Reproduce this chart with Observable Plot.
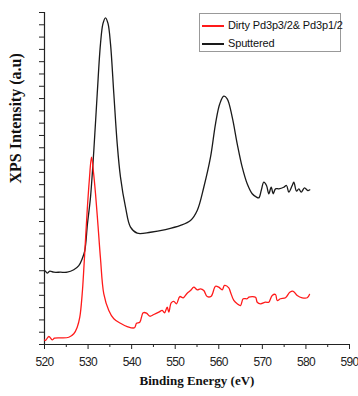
<!DOCTYPE html>
<html>
<head>
<meta charset="utf-8">
<script src="https://cdn.jsdelivr.net/npm/d3@7"></script>
<script src="https://cdn.jsdelivr.net/npm/@observablehq/plot@0.6"></script>
<style>
  html, body { margin: 0; padding: 0; background: #fff; }
  #wrap { position: relative; width: 358px; height: 396px; }
  g[aria-label="x-axis tick label"] text { font-family: "Liberation Sans", Arial, sans-serif; font-size: 12px; letter-spacing: -0.7px; fill: #222; }
  g[aria-label="x-axis label"] text {
    font-family: "Liberation Serif", "Times New Roman", serif !important; font-weight: bold; font-size: 13px; fill: #111;
  }
  #legend {
    position: absolute; left: 199px; top: 13px; width: 142px; height: 39px;
    border: 1px solid #999; background: #fff; box-sizing: border-box;
    font-family: "Liberation Sans", Arial, sans-serif; font-size: 11px; letter-spacing: -0.15px; color: #111;
  }
  #legend .row { position: absolute; left: 2px; height: 14px; line-height: 14px; white-space: nowrap; }
  #legend .sw { position: absolute; left: 0; top: 7px; width: 22px; height: 1.5px; }
  #legend .lab { position: absolute; left: 26px; top: 0; }
</style>
</head>
<body>
<div id="wrap"></div>
<script>
// Sputtered (black)
const blackX = [520.00,520.23,520.62,521.22,522.13,523.67,525.21,526.72,527.87,528.65,529.25,529.87,530.56,531.32,532.10,532.85,533.43,534.00,534.57,535.15,535.91,536.69,537.44,538.59,539.74,541.28,544.33,547.77,551.21,553.51,555.05,556.56,558.10,559.25,560.23,561.15,561.93,563.08,564.23,565.38,566.52,567.67,568.66,569.19,569.74,570.33,570.95,571.48,572.03,572.49,573.02,573.78,574.92,575.54,576.07,576.85,577.22,577.84,578.37,578.92,579.67,580.43,580.89];
const blackY = [6.02,5.96,5.80,5.96,5.88,5.88,5.88,6.08,6.42,6.97,7.64,9.84,11.98,15.78,20.39,24.45,26.11,26.57,26.11,24.45,20.39,16.32,13.61,11.17,9.54,9.05,9.13,9.35,9.68,10.08,10.90,12.79,15.23,17.95,19.58,20.19,19.98,18.49,16.32,14.42,13.07,12.26,11.98,11.93,12.52,13.20,12.93,12.26,12.79,12.26,12.66,12.66,12.79,12.93,12.39,12.93,13.20,12.47,12.66,12.39,12.74,12.52,12.58];
// Dirty Pd3p3/2 & Pd3p1/2 (red)
const redX = [520.00,520.23,520.99,521.77,522.30,523.67,525.58,526.72,527.51,528.10,528.65,529.07,529.80,530.28,530.79,531.25,531.71,532.28,532.85,533.61,534.76,535.91,537.44,538.98,540.66,541.12,541.87,542.65,543.41,544.17,545.09,546.23,547.01,547.54,548.16,548.53,549.08,549.68,550.30,551.05,551.83,552.75,553.51,554.27,555.05,555.80,556.56,557.34,558.26,559.25,560.00,560.79,561.31,562.30,562.69,563.45,564.23,564.98,565.60,566.52,566.89,568.43,568.82,569.58,570.72,571.48,572.26,573.02,573.41,574.17,575.31,576.30,577.08,578.00,579.15,580.29,580.82];
const redY = [0.37,0.33,0.65,0.38,0.51,0.54,0.59,0.87,1.41,2.22,4.12,6.42,10.90,13.34,15.23,13.99,12.26,9.68,6.99,4.12,2.77,2.09,1.73,1.46,1.36,1.73,1.81,2.58,2.55,2.30,2.44,2.63,2.77,2.58,3.03,2.63,3.39,3.50,3.31,3.90,3.80,4.17,4.39,4.66,4.45,4.53,4.39,3.90,3.93,4.74,4.66,4.45,4.80,4.61,4.25,3.58,3.31,3.17,3.72,3.72,3.85,3.85,3.44,3.31,3.44,3.44,3.99,4.07,3.58,3.72,3.80,4.25,4.33,3.99,3.80,3.80,4.07];

const xMajor = [520,530,540,550,560,570,580,590];
const xMinor = [525,535,545,555,565,575,585];
const yTicks = d3.range(0, 28);
const yLabel = "XPS Intensity (a.u)";
const seriesNames = ["Dirty Pd3p3/2& Pd3p1/2", "Sputtered"];
const seriesColors = ["#ff1a1a", "#1a1a1a"];

const black = blackX.map((x, i) => ({x, y: blackY[i]}));
const red = redX.map((x, i) => ({x, y: redY[i]}));

const plot = Plot.plot({
  width: 358,
  height: 396,
  marginTop: 12,
  marginRight: 9,
  marginBottom: 52,
  marginLeft: 44,
  style: {fontFamily: "Liberation Sans, Arial, sans-serif", background: "#fff"},
  x: {domain: [520, 590]},
  y: {domain: [0, 27]},
  marks: [
    Plot.axisY({ticks: yTicks, tickSize: 5, tickFormat: () => "", label: null, stroke: "#222"}),
    Plot.text([yLabel], {frameAnchor: "left", rotate: -90, dx: -29, dy: 5, text: d => d,
      fontFamily: "Liberation Serif, Times New Roman, serif", fontWeight: "bold", fontSize: 16, fill: "#111"}),
    Plot.axisX({ticks: xMinor, tickSize: 3, tickFormat: () => "", label: null, stroke: "#222"}),
    Plot.axisX({ticks: xMajor, tickSize: 5, tickPadding: 8, label: "Binding Energy (eV)", labelAnchor: "center", labelArrow: false, labelOffset: 40, stroke: "#222"}),
    Plot.ruleX([520], {y1: 0, y2: 27, stroke: "#222", strokeWidth: 1.2}),
    Plot.ruleY([0], {x1: 520, x2: 590, stroke: "#222", strokeWidth: 1.2}),
    Plot.line(black, {x: "x", y: "y", stroke: seriesColors[1], strokeWidth: 1.3, curve: "catmull-rom"}),
    Plot.line(red, {x: "x", y: "y", stroke: seriesColors[0], strokeWidth: 1.3, curve: "catmull-rom"})
  ]
});

const wrap = document.getElementById("wrap");
wrap.appendChild(plot);

const legend = document.createElement("div");
legend.id = "legend";
seriesNames.forEach((name, i) => {
  const row = document.createElement("div");
  row.className = "row";
  row.style.top = (i === 0 ? 4 : 22) + "px";
  const sw = document.createElement("div");
  sw.className = "sw";
  sw.style.background = seriesColors[i];
  row.appendChild(sw);
  const lab = document.createElement("span");
  lab.className = "lab";
  lab.textContent = name;
  row.appendChild(lab);
  legend.appendChild(row);
});
wrap.appendChild(legend);
</script>
</body>
</html>
